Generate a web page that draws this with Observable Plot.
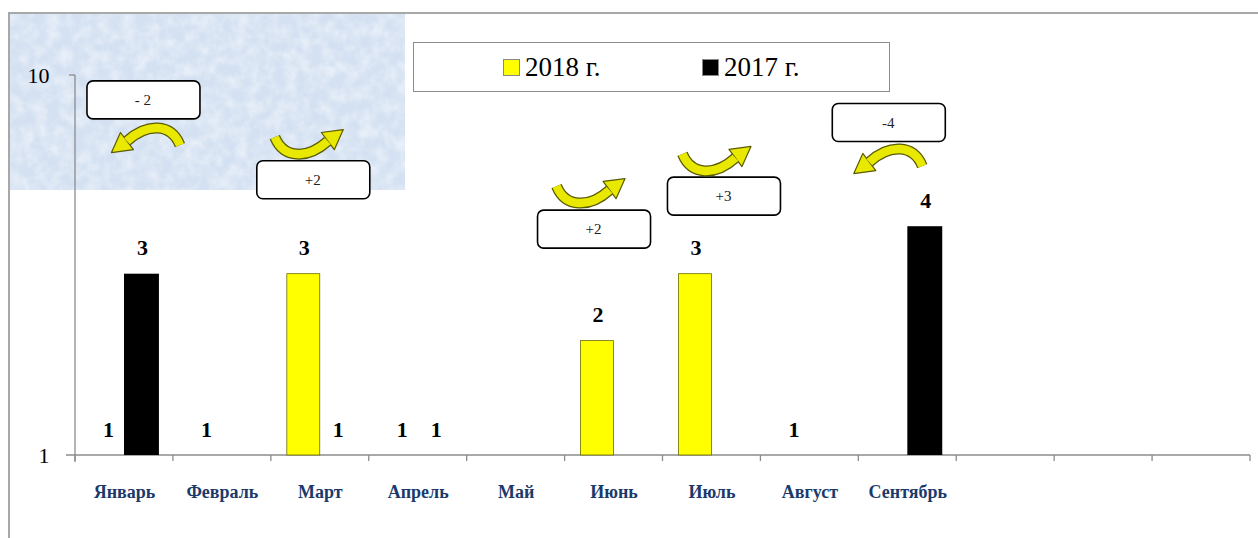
<!DOCTYPE html>
<html>
<head>
<meta charset="utf-8">
<script src="https://cdn.jsdelivr.net/npm/d3@7"></script>
<script src="https://cdn.jsdelivr.net/npm/@observablehq/plot@0.6"></script>
<style>
  body { margin: 0; background: #fff; }
  #wrap { position: relative; width: 1258px; height: 538px; overflow: hidden; font-family: 'Liberation Serif', 'DejaVu Serif', serif; background: #fff; }
  #frameTop { position: absolute; left: 8px; top: 12px; width: 1250px; height: 0; border-top: 2px solid #a8a8a8; }
  #frameLeft { position: absolute; left: 8px; top: 12px; width: 0; height: 526px; border-left: 2px solid #a8a8a8; }
  #bluebox { position: absolute; left: 10px; top: 14px; width: 395px; height: 176px; background-color: #d4e1f2;
    background-image: url("data:image/svg+xml;utf8,<svg xmlns='http://www.w3.org/2000/svg' width='395' height='176'><filter id='n'><feTurbulence type='fractalNoise' baseFrequency='0.08' numOctaves='3' seed='4'/><feColorMatrix values='0 0 0 0 1  0 0 0 0 1  0 0 0 0 1  0.9 0 0 0 -0.3'/></filter><rect width='100%' height='100%' filter='url(%23n)'/></svg>"); }
  #chart { position: absolute; left: 0; top: 0; }
  #legend { position: absolute; left: 413px; top: 42px; width: 475px; height: 48px; border: 1px solid #8c8c8c; background: #fff; }
  .lg-item { position: absolute; top: 0; height: 48px; display: flex; align-items: center; font-family: 'Liberation Serif', serif; font-size: 27px; color: #000; }
  .lg-sw { width: 17px; height: 17px; margin-right: 5px; box-sizing: border-box; border: 1px solid #888; }
</style>
</head>
<body>
<div id="wrap">
  <div id="frameTop"></div>
  <div id="frameLeft"></div>
  <div id="bluebox"></div>
  <div id="chart"></div>
  <div id="legend"></div>
</div>
<script>
// ---------- data ----------
const months = ["Январь","Февраль","Март","Апрель","Май","Июнь","Июль","Август","Сентябрь","Октябрь","Ноябрь","Декабрь"];
const tickLabels = ["Январь","Февраль","Март","Апрель","Май","Июнь","Июль","Август","Сентябрь","","",""];
const seriesNames = ["2018 г.","2017 г."];
const seriesColors = ["#ffff00","#000000"];
const values2018 = [1, 1, 3, 1, null, 2, 3, 1, null, null, null, null];
const values2017 = [3, null, 1, 1, null, null, null, null, 4, null, null, null];
const yTicks = [1, 10];

// annotations (change vs. last year)
const annMonths = ["Январь","Март","Июнь","Июль","Сентябрь"];
const annTexts = ["- 2","+2","+2","+3","-4"];
const annDirections = ["down","up","up","up","down"];
const annBoxValues = [8.6, 5.3, 3.93, 4.8, 7.5];
const annArrowValues = [6.7, 6.7, 4.98, 6.05, 5.9];
// layout shifts (px) of annotations from band center
const annBoxShift = [19, -7, -20, 12, -19];
const annArrowShift = [21, -10, -22, 6, -20];

// ---------- tables ----------
const data2018 = months.map((m, i) => ({month: m, value: values2018[i]})).filter(d => d.value != null);
const data2017 = months.map((m, i) => ({month: m, value: values2017[i]})).filter(d => d.value != null);
const labelOf = new Map(months.map((m, i) => [m, tickLabels[i]]));

// ---------- custom marks ----------
function axisLines(index, scales, values, dims) {
  const g = d3.create("svg:g").attr("stroke", "#8c8c8c").attr("stroke-width", 1.3).attr("fill", "none");
  const x0 = dims.marginLeft, x1 = dims.width - dims.marginRight;
  const yb = scales.y(1), yt = scales.y(10);
  g.append("line").attr("x1", x0).attr("x2", x0).attr("y1", yt).attr("y2", yb + 7);
  g.append("line").attr("x1", x0 - 9).attr("x2", x1).attr("y1", yb).attr("y2", yb);
  g.append("line").attr("x1", x0 - 6).attr("x2", x0).attr("y1", yt).attr("y2", yt);
  const bounds = months.map(m => scales.x(m)).concat([x1]);
  bounds.forEach(b => g.append("line").attr("x1", b).attr("x2", b).attr("y1", yb).attr("y2", yb + 6));
  return g.node();
}

function drawArrow(g, cx, cy, dir) {
  const a = g.append("g").attr("transform", `translate(${cx},${cy}) rotate(${dir === "down" ? 180 : 0})`);
  const p = "M -35,-4 C -26,18 -2,18 18,0";
  a.append("path").attr("d", p).attr("fill", "none").attr("stroke", "#5a5a00").attr("stroke-width", 11);
  a.append("path").attr("d", "M 24.5,8.6 L 33.5,-11.5 L 11.5,-8.6 Z")
    .attr("fill", "#e8e800").attr("stroke", "#5a5a00").attr("stroke-width", 1.2).attr("stroke-linejoin", "round");
  a.append("path").attr("d", p).attr("fill", "none").attr("stroke", "#e8e800").attr("stroke-width", 8.5);
}

function annotations(index, scales, values, dims) {
  const g = d3.create("svg:g");
  const step = scales.x(months[1]) - scales.x(months[0]);
  annMonths.forEach((m, i) => {
    const c = scales.x(m) + step / 2;
    const bx = c + annBoxShift[i], by = scales.y(annBoxValues[i]);
    g.append("rect").attr("x", bx - 56).attr("y", by - 19).attr("width", 113).attr("height", 38)
      .attr("rx", 6).attr("fill", "#fff").attr("stroke", "#000").attr("stroke-width", 1.6);
    g.append("text").attr("x", bx).attr("y", by).attr("dy", "0.35em").attr("text-anchor", "middle")
      .style("font-family", "'Liberation Serif', serif").attr("font-size", 15).attr("fill", "#222").text(annTexts[i]);
    drawArrow(g, c + annArrowShift[i], scales.y(annArrowValues[i]), annDirections[i]);
  });
  return g.node();
}

// ---------- plot ----------
const chart = Plot.plot({
  width: 1258,
  height: 538,
  marginLeft: 75,
  marginRight: 8,
  marginTop: 75,
  marginBottom: 83,
  style: {background: "transparent", fontFamily: "'Liberation Serif', serif"},
  x: {domain: months, padding: 0, round: false, axis: null, label: null},
  y: {type: "log", domain: [1, 10], axis: null, label: null},
  marks: [
    axisLines,
    Plot.axisY(yTicks, {tickSize: 0, tickPadding: 26, fontSize: 22, tickFormat: d => String(d), fill: "#000", label: null}),
    Plot.axisX({tickSize: 0, tickPadding: 30, fontSize: 18, fontWeight: "bold", fill: "#1b3a6b", tickFormat: d => labelOf.get(d), label: null}),
    Plot.barY(data2018, {x: "month", y1: 1, y2: "value", fill: seriesColors[0], stroke: "#6b6b00", strokeWidth: 0.8, insetLeft: 16, insetRight: 49}),
    Plot.barY(data2017, {x: "month", y1: 1, y2: "value", fill: seriesColors[1], insetLeft: 49, insetRight: 14}),
    Plot.text(data2018, {x: "month", y: "value", text: d => String(d.value), dx: -16, dy: -26, fontSize: 22, fontWeight: "bold", fill: "#000"}),
    Plot.text(data2017, {x: "month", y: "value", text: d => String(d.value), dx: 18, dy: -26, fontSize: 22, fontWeight: "bold", fill: "#000"}),
    annotations
  ]
});
document.getElementById("chart").appendChild(chart);

// ---------- legend ----------
const legend = document.getElementById("legend");
const legendLefts = [89, 288];
seriesNames.forEach((name, i) => {
  const item = document.createElement("div");
  item.className = "lg-item";
  item.style.left = legendLefts[i] + "px";
  const sw = document.createElement("span");
  sw.className = "lg-sw";
  sw.style.background = seriesColors[i];
  const tx = document.createElement("span");
  tx.textContent = name;
  item.appendChild(sw);
  item.appendChild(tx);
  legend.appendChild(item);
});
</script>
</body>
</html>
